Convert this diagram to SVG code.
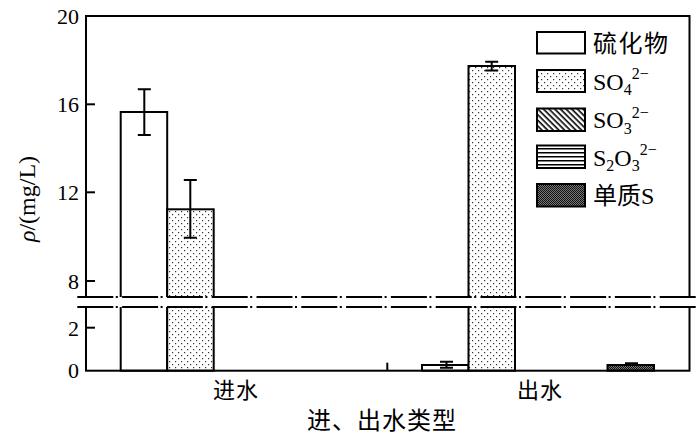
<svg xmlns="http://www.w3.org/2000/svg" width="700" height="439" viewBox="0 0 700 439">
<style>
.bar{stroke:#000;stroke-width:2}
.eb{stroke:#000;stroke-width:2;fill:none}
.tick{stroke:#000;stroke-width:2}
.brk{stroke:#000;stroke-width:1.8;stroke-dasharray:36 2.5 2 4.3;fill:none}
.tnr{font-family:'Liberation Serif','Times New Roman','DejaVu Serif','Noto Serif',serif}
.zh{font-family:'Noto Sans CJK SC','Noto Sans CJK JP',sans-serif}
</style>
<defs>
<pattern id="dots" width="6" height="6" patternUnits="userSpaceOnUse">
<rect width="6" height="6" fill="#fff"/>
<rect x="1" y="1" width="1.2" height="1.2" fill="#333"/>
<rect x="4" y="4" width="1.2" height="1.2" fill="#333"/>
</pattern>
<pattern id="diag" width="4" height="4" patternUnits="userSpaceOnUse" patternTransform="rotate(45)">
<rect width="4" height="4" fill="#fff"/>
<rect width="4" height="1.6" fill="#000"/>
</pattern>
<pattern id="horiz" width="4" height="4" patternUnits="userSpaceOnUse">
<rect width="4" height="4" fill="#fff"/>
<rect width="4" height="1.5" fill="#000"/>
</pattern>
<pattern id="checker" width="2" height="2" patternUnits="userSpaceOnUse">
<rect width="2" height="2" fill="#777"/>
<rect width="1" height="1" fill="#111"/>
<rect x="1" y="1" width="1" height="1" fill="#111"/>
</pattern>
</defs>
<rect width="700" height="439" fill="#fff"/>

<g id="bars">
<rect class="bar" x="120.7" y="112" width="46.5" height="258.7" fill="#fff"/>
<rect class="bar" x="167.2" y="209.3" width="46.5" height="161.4" fill="url(#dots)"/>
<rect class="bar" x="422" y="365" width="46.5" height="5.7" fill="#fff"/>
<rect class="bar" x="468.5" y="66" width="46.5" height="304.7" fill="url(#dots)"/>
<rect class="bar" x="607.5" y="365" width="46.5" height="5.7" fill="url(#checker)"/>
</g>

<g id="errorbars">
<path class="eb" d="M144.3 89.3V135M137.8 89.3H150.8M137.8 135H150.8"/>
<path class="eb" d="M190.3 180V237.7M183.8 180H196.8M183.8 237.7H196.8"/>
<path class="eb" d="M446.5 361.7V367.7M440 361.7H453M440 367.7H453"/>
<path class="eb" d="M491.7 61.7V70.5M485.2 61.7H498.2M485.2 70.5H498.2"/>
<path class="eb" d="M631.5 363.3V365M625 363.3H638"/>
</g>

<g id="axes">
<rect x="86" y="16" width="603.5" height="354.7" fill="none" stroke="#000" stroke-width="2"/>
<line class="tick" x1="86" y1="104.3" x2="95" y2="104.3"/>
<line class="tick" x1="86" y1="192.3" x2="95" y2="192.3"/>
<line class="tick" x1="86" y1="281" x2="95" y2="281"/>
<line class="tick" x1="86" y1="327.7" x2="95" y2="327.7"/>
<line class="tick" x1="387.3" y1="370.7" x2="387.3" y2="362.7"/>
</g>

<g id="break">
<rect x="76" y="297" width="622" height="10" fill="#fff"/>
<line class="brk" x1="77.3" y1="297" x2="696" y2="297"/>
<line class="brk" x1="77.3" y1="307" x2="696" y2="307"/>
</g>

<g id="ticklabels" class="tnr" font-size="22" text-anchor="end" fill="#000">
<text x="79" y="24">20</text>
<text x="79" y="112">16</text>
<text x="79" y="200">12</text>
<text x="79" y="288.5">8</text>
<text x="79" y="335.5">2</text>
<text x="79" y="378">0</text>
</g>

<g id="axislabels" fill="#000">
<text class="tnr" font-size="24" transform="translate(35,199) rotate(-90)" text-anchor="middle"><tspan font-style="italic">ρ</tspan>/(mg/L)</text>
<text class="zh" font-size="22" x="236" y="398" text-anchor="middle" letter-spacing="1">进水</text>
<text class="zh" font-size="22" x="540" y="398" text-anchor="middle" letter-spacing="1">出水</text>
<text class="zh" font-size="24" x="382" y="429" text-anchor="middle" letter-spacing="1">进、出水类型</text>
</g>

<g id="legend" fill="#000">
<g id="leg-sulfide">
<rect class="bar" x="537" y="32" width="48" height="21.5" fill="#fff"/>
<text class="zh" font-size="24" x="593" y="52" letter-spacing="1.5">硫化物</text>
</g>
<g id="leg-so4">
<rect class="bar" x="537" y="70" width="48" height="22" fill="url(#dots)"/>
<text class="tnr" font-size="24" x="593" y="89.5">SO<tspan font-size="16" dy="5.5">4</tspan><tspan font-size="16" dy="-16">2−</tspan></text>
</g>
<g id="leg-so3">
<rect class="bar" x="537" y="108.5" width="48" height="22.5" fill="url(#diag)"/>
<text class="tnr" font-size="24" x="593" y="128">SO<tspan font-size="16" dy="5.5">3</tspan><tspan font-size="16" dy="-16">2−</tspan></text>
</g>
<g id="leg-s2o3">
<rect class="bar" x="537" y="145.5" width="48" height="22.5" fill="url(#horiz)"/>
<text class="tnr" font-size="24" x="593" y="165.5">S<tspan font-size="16" dy="5.5">2</tspan><tspan dy="-5.5">O</tspan><tspan font-size="16" dy="5.5">3</tspan><tspan font-size="16" dy="-16">2−</tspan></text>
</g>
<g id="leg-s">
<rect class="bar" x="537" y="184" width="48" height="22.5" fill="url(#checker)"/>
<text font-size="24" x="593" y="203.5"><tspan class="zh">单质</tspan><tspan class="tnr">S</tspan></text>
</g>
</g>
</svg>
